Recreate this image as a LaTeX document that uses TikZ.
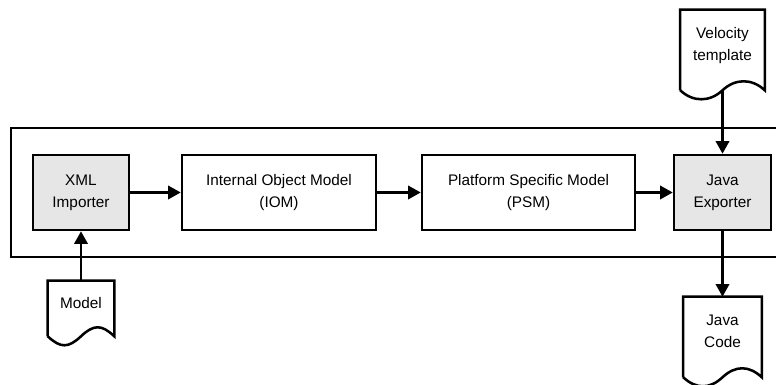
\documentclass[tikz,border=0pt]{standalone}
\usepackage{fontspec}
\setmainfont{Liberation Sans}
\usetikzlibrary{arrows.meta}
\definecolor{boxgray}{HTML}{E6E6E6}
\tikzset{
  every node/.style={font=\fontsize{10.9}{15.6}\selectfont, align=center},
  stage/.style={draw, line width=1.8pt, minimum height=1.875cm, inner sep=0pt},
  tool/.style={stage, fill=boxgray},
  docbox/.style={inner sep=0pt, minimum height=2cm, text depth=0.3cm},
  flow/.style={line width=1.8pt, -{Triangle[length=9pt,width=9.5pt]}}
}
\newcommand\docoutline[1]{%
  \draw[line width=1.8pt] (#1.south west) -- (#1.north west) -- (#1.north east) -- (#1.south east)
    .. controls +(-0.32,0.3) and +(0.32,0.3) .. (#1.south)
    .. controls +(-0.32,-0.3) and +(0.32,-0.3) .. (#1.south west);}
\begin{document}
\begin{tikzpicture}
\useasboundingbox (0,0) rectangle (19.4,-9.625);
\clip (0,0) rectangle (19.4,-9.625);
\draw[line width=1.8pt] (0.275,-3.2) rectangle (19.75,-6.425);

\node[tool, minimum width=2.4cm] (xml) at (2.025,-4.8125) {XML\\Importer};
\node[stage, minimum width=4.85cm] (iom) at (6.975,-4.8125) {Internal Object Model\\(IOM)};
\node[stage, minimum width=5.325cm] (psm) at (13.2125,-4.8125) {Platform Specific Model\\(PSM)};
\node[tool, minimum width=2.425cm] (jexp) at (18.0625,-4.8125) {Java\\Exporter};

\node[docbox, minimum width=1.65cm, minimum height=1.375cm] (model) at (2.025,-7.7125) {Model};
\node[docbox, minimum width=2.1cm] (velo) at (18.0625,-1.25) {Velocity\\template};
\node[docbox, minimum width=1.95cm] (jcode) at (18.0625,-8.425) {Java\\Code};
\docoutline{model}
\docoutline{velo}
\docoutline{jcode}

\draw[flow] (xml) -- (iom);
\draw[flow] (iom) -- (psm);
\draw[flow] (psm) -- (jexp);
\draw[flow] (model.north) -- (xml.south);
\draw[flow] (velo.south) -- (jexp.north);
\draw[flow] (jexp.south) -- (jcode.north);
\end{tikzpicture}
\end{document}
